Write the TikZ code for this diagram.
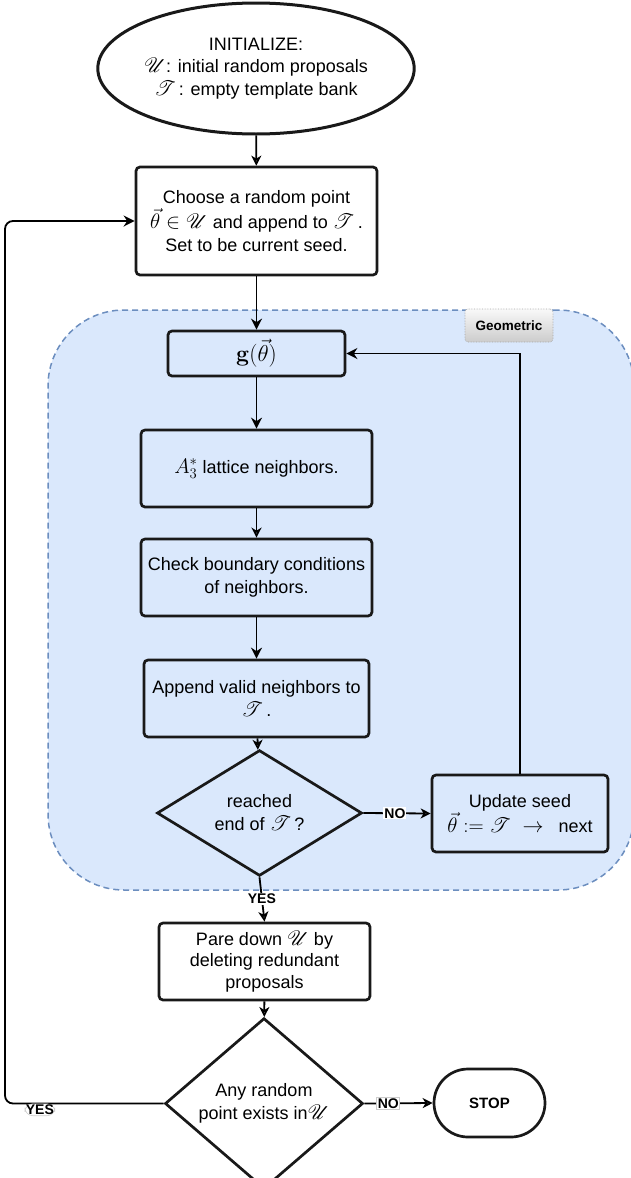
\RequirePackage{fix-cm}
\documentclass[tikz,border=0pt]{standalone}
\usepackage[no-math]{fontspec}
\setmainfont{Liberation Sans}
\usepackage{mathrsfs}
\usetikzlibrary{shapes.geometric,arrows.meta}
\definecolor{gfill}{HTML}{DAE8FC}
\definecolor{gdraw}{HTML}{6C8EBF}
\newcommand{\MyM}[1]{{\fontsize{21}{23}\selectfont$#1$}}
\tikzset{
  base/.style={draw=black!90, line width=2.7pt, align=center, inner sep=0pt, font=\fontsize{18}{23}\selectfont},
  box/.style={base, rectangle, rounded corners=4pt},
  dia/.style={base, diamond},
  arrF/.style={line width=1.8pt, -{Stealth[length=11pt,width=11pt,inset=3.5pt]}},
  arrO/.style={line width=1.8pt, -{Stealth[open,length=10pt,width=10pt,inset=3pt]}},
  lbl/.style={fill=white, font=\fontsize{14}{14}\selectfont\bfseries, inner sep=1pt},
  lblb/.style={lbl, draw=black!20, line width=0.6pt},
  groupbox/.style={rectangle, rounded corners=76pt, fill=gfill, draw=gdraw, line width=1.5pt, dash pattern=on 6pt off 4pt},
  tagbox/.style={rectangle, rounded corners=3pt, top color=gray!5, bottom color=gray!40, draw=gray!70, densely dotted, line width=0.6pt, font=\fontsize{13.5}{13.5}\selectfont\bfseries},
}
\begin{document}
\begin{tikzpicture}[x=1pt, y=-1pt]
\useasboundingbox (0,0) rectangle (631,1178);

% group container
\node[groupbox, minimum width=586pt, minimum height=580pt] (geo) at (341,600) {};
\node[tagbox, minimum width=88pt, minimum height=33pt] (tag) at (509,325.5) {Geometric};

% nodes
\node[base, ellipse, line width=3pt, minimum width=286pt, minimum height=131pt] (init) at (256,68.5)
  {INITIALIZE:\\[-0.5pt] \MyM{\mathscr{U}}: initial random proposals\\[-0.5pt] \MyM{\mathscr{T}}\,: empty template bank};
\node[box, fill=white, minimum width=241pt, minimum height=108pt] (choose) at (256.5,221)
  {Choose a random point\\ \MyM{\vec{\theta}\in\mathscr{U}} and append to \MyM{\mathscr{T}\,}.\\ Set to be current seed.};
\node[box, fill=gfill, minimum width=177pt, minimum height=45pt, font=\fontsize{23}{24}\selectfont] (g) at (256.5,353.5)
  {$\mathbf{g}(\vec{\theta})$};
\node[box, fill=gfill, minimum width=231pt, minimum height=77pt] (lat) at (256.5,468.5)
  {\MyM{A_3^*} lattice neighbors.};
\node[box, fill=gfill, minimum width=231pt, minimum height=77pt] (check) at (256.5,577.5)
  {Check boundary conditions\\ of neighbors.};
\node[box, fill=gfill, minimum width=225pt, minimum height=77pt] (app) at (256.5,698.5)
  {Append valid neighbors to\\ \MyM{\mathscr{T}}\,.};
\node[dia, fill=gfill, minimum width=205pt, minimum height=88pt] (end) at (259.5,813)
  {reached\\ end of \MyM{\mathscr{T}}\,?};
\node[box, fill=gfill, minimum width=176pt, minimum height=77pt] (upd) at (520,813.5)
  {Update seed\\ \MyM{\vec{\theta}:=\mathscr{T}\;\rightarrow}\ \ \ next};
\node[box, fill=white, minimum width=211pt, minimum height=77pt, font=\fontsize{18}{21.5}\selectfont] (pare) at (264.5,961.5)
  {Pare down \MyM{\mathscr{U}} by\\ deleting redundant\\ proposals};
\node[dia, fill=white, minimum width=198pt, minimum height=143pt] (any) at (264,1103.5)
  {Any random\\ point exists in\MyM{\mathscr{U}}};
\node[base, rectangle, rounded corners=34pt, minimum width=111pt, minimum height=68pt, font=\fontsize{15}{15}\selectfont\bfseries] (stop) at (489.5,1103)
  {STOP};

\coordinate (loopx) at (5,600);

% connectors
\draw[arrO] (init) -- (choose);
\draw[arrF] (choose) -- (g);
\draw[arrF] (g) -- (lat);
\draw[arrO] (lat) -- (check);
\draw[arrF] (check) -- (app);
\draw[arrO] (app) -- (end);
\draw[arrO] (end.east) -- node[lbl, pos=0.47] {NO} (upd.west);
\draw[arrF] (upd.north) |- (g.east);
\draw[arrO] (end.south) -- node[lbl, pos=0.48] {YES} (pare.north);
\draw[arrO] (pare) -- (any);
\draw[arrO] (any.east) -- node[lblb, pos=0.35] {NO} (stop.west);
\draw[arrF, rounded corners=8pt] (any.west) -| node[lblb, pos=0.39, anchor=north] {YES} (loopx) |- (choose.west);
\end{tikzpicture}
\end{document}
